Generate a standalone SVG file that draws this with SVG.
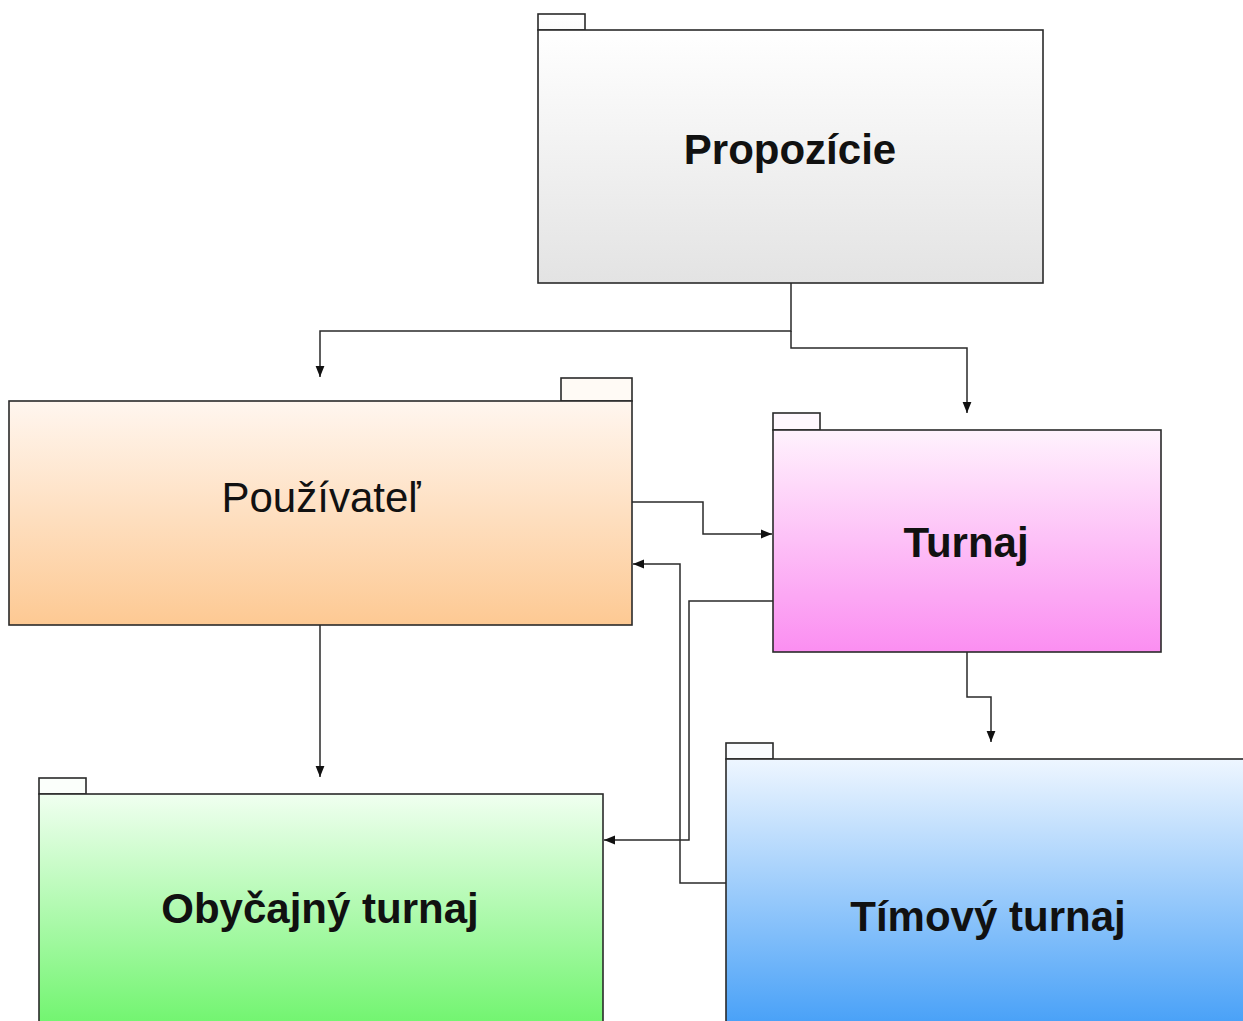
<svg xmlns="http://www.w3.org/2000/svg" width="1243" height="1021" viewBox="0 0 1243 1021">
<defs>
<linearGradient id="gGray" x1="0" y1="0" x2="0" y2="1"><stop offset="0" stop-color="#ffffff"/><stop offset="1" stop-color="#e3e3e3"/></linearGradient>
<linearGradient id="gOrange" x1="0" y1="0" x2="0" y2="1"><stop offset="0" stop-color="#fff6ef"/><stop offset="1" stop-color="#fdc993"/></linearGradient>
<linearGradient id="gPink" x1="0" y1="0" x2="0" y2="1"><stop offset="0" stop-color="#fff2fd"/><stop offset="1" stop-color="#fb8ef1"/></linearGradient>
<linearGradient id="gGreen" x1="0" y1="0" x2="0" y2="1"><stop offset="0" stop-color="#f0fff0"/><stop offset="1" stop-color="#6cf46a"/></linearGradient>
<linearGradient id="gBlue" x1="0" y1="0" x2="0" y2="1"><stop offset="0" stop-color="#eef6ff"/><stop offset="1" stop-color="#3f9cf7"/></linearGradient>
<linearGradient id="gTab" x1="0" y1="0" x2="0" y2="1"><stop offset="0" stop-color="#ffffff"/><stop offset="1" stop-color="#fbfbfb"/></linearGradient>
<marker id="arr" viewBox="0 0 10 10" refX="10" refY="5" markerWidth="11" markerHeight="11" markerUnits="userSpaceOnUse" orient="auto">
<path d="M0,1 L10,5 L0,9 Z" fill="#111"/>
</marker>
</defs>
<style>
.box{stroke:#2a2a2a;stroke-width:1.6}
.tab{stroke:#2a2a2a;stroke-width:1.6}
.lbl{font-family:"Liberation Sans",Arial,sans-serif;font-size:42px;fill:#111;text-anchor:middle}
.b{font-weight:bold}
.conn path{fill:none;stroke:#2a2a2a;stroke-width:1.5}
</style>
<rect width="1243" height="1021" fill="#ffffff"/>
<g id="propozicie">
<rect class="tab" x="538" y="14" width="47" height="16" fill="url(#gTab)"/>
<rect class="box" x="538" y="30" width="505" height="253" fill="url(#gGray)"/>
<text class="lbl b" x="790" y="164">Propozície</text>
</g>
<g id="pouzivatel">
<rect class="tab" x="561" y="378" width="71" height="23" fill="#fffaf5"/>
<rect class="box" x="9" y="401" width="623" height="224" fill="url(#gOrange)"/>
<text class="lbl" x="321" y="512">Používateľ</text>
</g>
<g id="turnaj">
<rect class="tab" x="773" y="413" width="47" height="17" fill="#fff8fe"/>
<rect class="box" x="773" y="430" width="388" height="222" fill="url(#gPink)"/>
<text class="lbl b" x="966" y="557">Turnaj</text>
</g>
<g id="obycajny">
<rect class="tab" x="39" y="778" width="47" height="16" fill="#fbfffb"/>
<rect class="box" x="39" y="794" width="564" height="240" fill="url(#gGreen)"/>
<text class="lbl b" x="320" y="923">Obyčajný turnaj</text>
</g>
<g id="timovy">
<rect class="tab" x="726" y="743" width="47" height="16" fill="#fafcff"/>
<rect class="box" x="726" y="759" width="530" height="280" fill="url(#gBlue)"/>
<text class="lbl b" x="988" y="931">Tímový turnaj</text>
</g>
<g class="conn" id="connectors">
<path d="M791,283 V331 H320 V377" marker-end="url(#arr)"/>
<path d="M791,331 V348 H967 V413" marker-end="url(#arr)"/>
<path d="M632,502 H703 V534 H772" marker-end="url(#arr)"/>
<path d="M726,883 H680 V564 H633" marker-end="url(#arr)"/>
<path d="M773,601 H689 V840 H604" marker-end="url(#arr)"/>
<path d="M320,625 V777" marker-end="url(#arr)"/>
<path d="M967,652 V697 H991 V742" marker-end="url(#arr)"/>
</g>
</svg>
